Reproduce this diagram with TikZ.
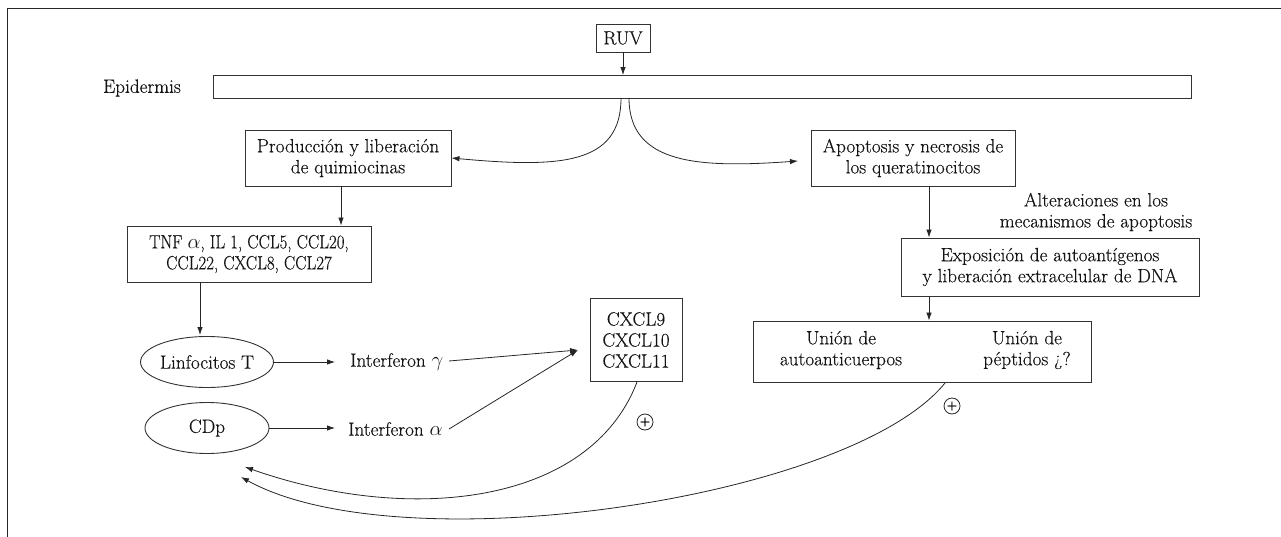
\documentclass[tikz,border=0pt]{standalone}
\usepackage{fontspec}
\setmainfont{Latin Modern Roman}[FakeBold=0.3]
\newfontfamily\cond{Latin Modern Roman}[FakeStretch=0.88,FakeBold=0.3]
\usetikzlibrary{arrows.meta,shapes.geometric}
\begin{document}
\begin{tikzpicture}[x=1pt,y=-1pt,
  every node/.style={font=\fontsize{19.2}{21}\selectfont, text=black!92, inner sep=0pt},
  boxnode/.style={draw=black!80, line width=0.9pt, align=center, anchor=center},
  ell/.style={draw=black!80, line width=0.9pt, ellipse, minimum width=124pt, minimum height=51pt},
  arr/.style={draw=black!85, line width=0.8pt, -{Latex[length=8pt,width=5.5pt]}},
  ln/.style={draw=black!85, line width=0.8pt},
  plusc/.style={draw=black!85, line width=0.8pt, circle, minimum size=16pt, font=\fontsize{14}{14}\selectfont}]
\useasboundingbox (0,0) rectangle (1281,537);
% frame
\draw[ln] (1281,8) -- (7,8) -- (7,537);
% RUV and epidermis
\node[boxnode, minimum width=54pt, minimum height=28pt] (ruv) at (623,38) {RUV};
\node[boxnode, minimum width=978pt, minimum height=23pt] (epi) at (702,87) {};
\node (epil) at (142,88) {Epidermis};
\draw[arr] (ruv.south) -- (ruv.south |- epi.north);
% two main boxes
\node[boxnode, minimum width=206pt, minimum height=56pt] (prod) at (348,158) {Producción y liberación\\de quimiocinas};
\node[boxnode, minimum width=204pt, minimum height=56pt] (apop) at (913,158) {Apoptosis y necrosis de\\los queratinocitos};
\coordinate (e1) at (621,98);
\coordinate (e2) at (629,98);
\draw[arr] (e1) .. controls (621,165) and (560,168) .. (prod.east);
\coordinate (apin) at (798,161);
\draw[arr] (e2) .. controls (629,165) and (700,168) .. (apin);
% left column
\node[boxnode, minimum width=244pt, minimum height=56pt, font=\cond\fontsize{19.2}{21}\selectfont] (tnf) at (249,254) {TNF $\alpha$, IL 1, CCL5, CCL20,\\CCL22, CXCL8, CCL27};
\coordinate (p1) at (341,186);
\draw[arr] (p1) -- (p1 |- tnf.north);
\coordinate (t1) at (200,282);
\coordinate (t2) at (200,335);
\draw[arr] (t1) -- (t2);
\node[ell] (lin) at (207,362) {Linfocitos T};
\node[ell] (cdp) at (207,428) {CDp};
\node[anchor=west] (ifg) at (350,362) {Interferon $\gamma$};
\node[anchor=west] (ifa) at (348,429) {Interferon $\alpha$};
\draw[arr] (lin.east) -- (335,362);
\draw[arr] (cdp.east) -- (335,428);
\node[boxnode, minimum width=92pt, minimum height=83pt] (cxcl) at (636,340) {CXCL9\\CXCL10\\CXCL11};
\coordinate (cx) at (578,350);
\coordinate (g1) at (449,361);
\coordinate (g2) at (449,429);
\draw[arr] (g1) -- (cx);
\draw[arr] (g2) -- (cx);
% right column
\node (alt) at (1096,212) [align=center] {Alteraciones en los\\mecanismos de apoptosis};
\node[boxnode, minimum width=298pt, minimum height=58pt] (expo) at (1050,267) {Exposición de autoantígenos\\y liberación extracelular de DNA};
\coordinate (a1) at (929,186);
\draw[arr] (a1) -- (a1 |- expo.north);
\node[boxnode, minimum width=338pt, minimum height=61pt] (union) at (922,351.5) {};
\node[align=center] (u1) at (841,350) {Unión de\\autoanticuerpos};
\node[align=center] (u2) at (1027,350) {Unión de\\péptidos ¿?};
\coordinate (x1) at (929,296);
\draw[arr] (x1) -- (x1 |- union.north);
% feedback
\node[plusc] (pl1) at (645,422) {+};
\node[plusc] (pl2) at (952,406) {+};
\coordinate (c1) at (637,382);
\coordinate (c1e) at (245,467);
\draw[arr] (c1) .. controls (590,505) and (410,525) .. (c1e);
\coordinate (c2) at (945,383);
\coordinate (c2e) at (241,477);
\draw[arr] (c2) .. controls (850,500) and (400,565) .. (c2e);
\end{tikzpicture}
\end{document}
